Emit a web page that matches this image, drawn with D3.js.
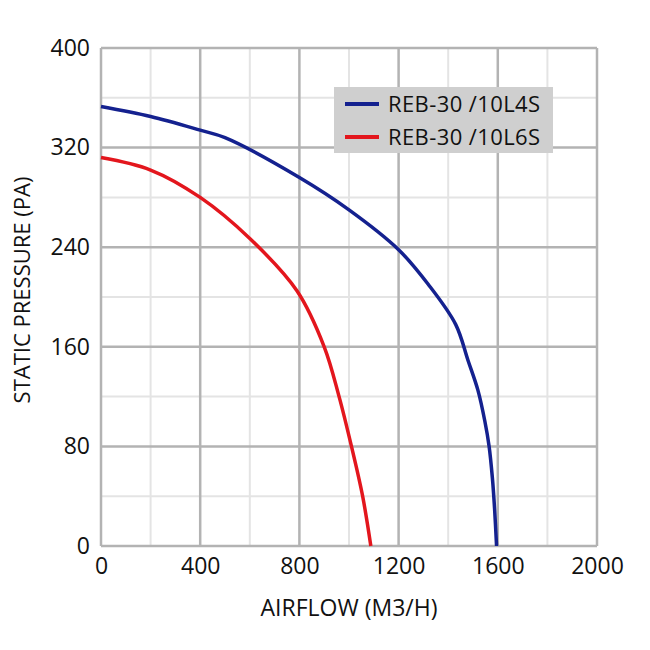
<!DOCTYPE html>
<html>
<head>
<meta charset="utf-8">
<script src="https://cdn.jsdelivr.net/npm/d3@7.9.0/dist/d3.min.js"></script>
<style>
  body { margin: 0; background: #fff; }
  text { font-family: "Open Sans", sans-serif; fill: #111; }
</style>
</head>
<body>
<svg id="chart" width="650" height="650"></svg>
<script>
// series values (airflow m3/h, static pressure Pa)
const l4sFlow = [0, 200, 400, 500, 800, 1000, 1200, 1320, 1430, 1480, 1520, 1548, 1565, 1578, 1587, 1595];
const l4sPres = [353, 345, 334, 328, 296, 270, 238, 210, 178, 149, 125, 100, 80, 55, 30, 0];
const l6sFlow = [0, 200, 400, 600, 790, 900, 960, 1010, 1055, 1088];
const l6sPres = [312, 302, 280, 247, 205, 160, 120, 80, 40, 0];

const seriesNames = ['REB-30 /10L4S', 'REB-30 /10L6S'];
const seriesColors = ['#14218f', '#e3161d'];

const xTicks = [0, 400, 800, 1200, 1600, 2000];
const yTicks = [0, 80, 160, 240, 320, 400];
const xMinor = [200, 600, 1000, 1400, 1800];
const yMinor = [40, 120, 200, 280, 360];

const svg = d3.select('#chart');
const margin = { left: 101, right: 53, top: 48, bottom: 104 };
const w = 650 - margin.left - margin.right;
const h = 650 - margin.top - margin.bottom;

const x = d3.scaleLinear().domain([0, 2000]).range([0, w]);
const y = d3.scaleLinear().domain([0, 400]).range([h, 0]);

const g = svg.append('g').attr('transform', `translate(${margin.left},${margin.top})`);

// minor grid
g.selectAll('.xminor').data(xMinor).join('line')
  .attr('x1', d => x(d)).attr('x2', d => x(d)).attr('y1', 0).attr('y2', h)
  .attr('stroke', '#e4e4e4').attr('stroke-width', 2);
g.selectAll('.yminor').data(yMinor).join('line')
  .attr('y1', d => y(d)).attr('y2', d => y(d)).attr('x1', 0).attr('x2', w)
  .attr('stroke', '#e4e4e4').attr('stroke-width', 2);

// major grid
g.selectAll('.xmajor').data(xTicks).join('line')
  .attr('x1', d => x(d)).attr('x2', d => x(d)).attr('y1', 0).attr('y2', h)
  .attr('stroke', '#b3b3b3').attr('stroke-width', 2.5);
g.selectAll('.ymajor').data(yTicks).join('line')
  .attr('y1', d => y(d)).attr('y2', d => y(d)).attr('x1', 0).attr('x2', w)
  .attr('stroke', '#b3b3b3').attr('stroke-width', 2.5);

// tick labels
const xAxis = g.append('g').attr('transform', `translate(0,${h})`)
  .call(d3.axisBottom(x).tickValues(xTicks).tickFormat(d3.format('d')).tickSize(0).tickPadding(12));
const yAxis = g.append('g')
  .call(d3.axisLeft(y).tickValues(yTicks).tickFormat(d3.format('d')).tickSize(0).tickPadding(11));
[xAxis, yAxis].forEach(a => {
  a.select('.domain').remove();
  a.selectAll('text').attr('font-size', 23).attr('font-family', '"Open Sans", sans-serif').attr('fill', '#111');
});

// curves
const line = d3.line().x(d => x(d[0])).y(d => y(d[1])).curve(d3.curveCatmullRom.alpha(0.5));
const series = [d3.zip(l4sFlow, l4sPres), d3.zip(l6sFlow, l6sPres)];
series.forEach((pts, i) => {
  g.append('path').datum(pts)
    .attr('d', line)
    .attr('fill', 'none')
    .attr('stroke', seriesColors[i])
    .attr('stroke-width', 3.5);
});

// legend
const leg = svg.append('g').attr('transform', 'translate(334,87)');
leg.append('rect').attr('width', 219).attr('height', 66).attr('fill', '#cfcfcf');
seriesNames.forEach((name, i) => {
  const yy = 17 + i * 33;
  leg.append('line').attr('x1', 11).attr('x2', 45).attr('y1', yy).attr('y2', yy)
    .attr('stroke', seriesColors[i]).attr('stroke-width', 4);
  leg.append('text').attr('x', 54).attr('y', yy).attr('dy', '0.36em')
    .attr('font-size', 22).attr('letter-spacing', 0.4).text(name);
});

// axis titles
svg.append('text').attr('x', margin.left + w / 2).attr('y', 616)
  .attr('text-anchor', 'middle').attr('font-size', 23).text('AIRFLOW (M3/H)');
svg.append('text')
  .attr('transform', `translate(30,290) rotate(-90)`)
  .attr('text-anchor', 'middle').attr('font-size', 22).text('STATIC PRESSURE (PA)');
</script>
</body>
</html>
